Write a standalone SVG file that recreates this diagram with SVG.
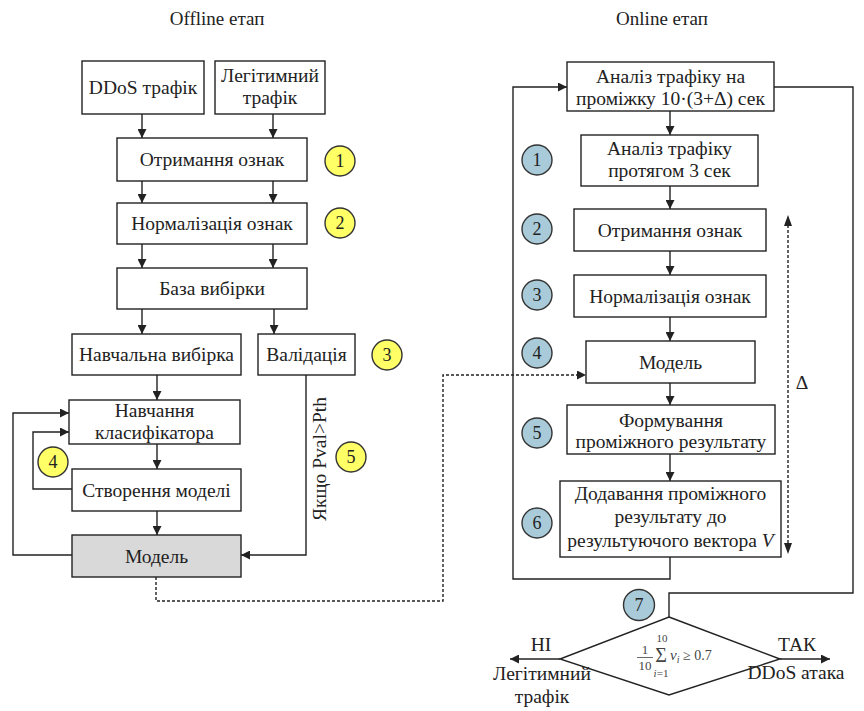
<svg xmlns="http://www.w3.org/2000/svg" width="864" height="711" viewBox="0 0 864 711">
<defs>
<style>
.box{fill:#fff;stroke:#222;stroke-width:1.4}
.gray{fill:#d9d9d9;stroke:#222;stroke-width:1.4}
.t{font-family:"Liberation Serif","Times New Roman",serif;font-size:19.5px;fill:#222;text-anchor:middle}
.title{font-family:"Liberation Serif","Times New Roman",serif;font-size:19px;fill:#222;text-anchor:middle}
.ln{fill:none;stroke:#222;stroke-width:1.4}
.dash{fill:none;stroke:#222;stroke-width:1.4;stroke-dasharray:3 2}
.yc{fill:#ffff66;stroke:#333;stroke-width:1.4}
.bc{fill:#a9cbd9;stroke:#333;stroke-width:1.4}
.num{font-family:"Liberation Serif","Times New Roman",serif;font-size:18px;fill:#222;text-anchor:middle}
.f{font-family:"Liberation Serif","Times New Roman",serif;fill:#444}
</style>
<marker id="ar" viewBox="0 0 10 10" refX="10" refY="5" markerWidth="9" markerHeight="9" markerUnits="userSpaceOnUse" orient="auto">
<path d="M0,0 L10,5 L0,10 z" fill="#222"/>
</marker>
</defs>

<text class="title" x="217" y="25">Offline етап</text>
<text class="title" x="662" y="25">Online етап</text>

<g id="connectors">
<path class="ln" d="M142,114 V138" marker-end="url(#ar)"/>
<path class="ln" d="M273,114 V138" marker-end="url(#ar)"/>
<path class="ln" d="M142,181 V203" marker-end="url(#ar)"/>
<path class="ln" d="M273,181 V203" marker-end="url(#ar)"/>
<path class="ln" d="M142,244 V268" marker-end="url(#ar)"/>
<path class="ln" d="M273,244 V268" marker-end="url(#ar)"/>
<path class="ln" d="M142,309 V334" marker-end="url(#ar)"/>
<path class="ln" d="M274,309 V334" marker-end="url(#ar)"/>
<path class="ln" d="M157,375 V400" marker-end="url(#ar)"/>
<path class="ln" d="M157,444 V469" marker-end="url(#ar)"/>
<path class="ln" d="M157,511 V535" marker-end="url(#ar)"/>
<path class="ln" d="M72,555 H13 V413 H69" marker-end="url(#ar)"/>
<path class="ln" d="M72,489 H33 V432 H69" marker-end="url(#ar)"/>
<path class="ln" d="M306,375 V555 H241" marker-end="url(#ar)"/>
<path class="dash" d="M156,577 V601 H443 V375 H586" marker-end="url(#ar)"/>

<path class="ln" d="M670,111 V135" marker-end="url(#ar)"/>
<path class="ln" d="M670,186 V209" marker-end="url(#ar)"/>
<path class="ln" d="M670,251 V275" marker-end="url(#ar)"/>
<path class="ln" d="M670,317 V341" marker-end="url(#ar)"/>
<path class="ln" d="M670,383 V405" marker-end="url(#ar)"/>
<path class="ln" d="M670,454 V481" marker-end="url(#ar)"/>
<path class="ln" d="M670,557 V579 H513 V87 H567" marker-end="url(#ar)"/>
<path class="ln" d="M774,87 H853 V593 H669 V617"/>
<path class="dash" d="M788,225 V545"/>
<path d="M788,215 L784,226 L792,226 z" fill="#222"/>
<path d="M788,554 L784,543 L792,543 z" fill="#222"/>
<path class="ln" d="M560,659 H510" marker-end="url(#ar)"/>
<path class="ln" d="M780,659 H830" marker-end="url(#ar)"/>
</g>

<g id="n-ddos"><rect class="box" x="82" y="61" width="122" height="53"/><text class="t" x="143" y="94">DDoS трафік</text></g>
<g id="n-legit"><rect class="box" x="215" y="61" width="110" height="53"/><text class="t" x="270" y="82">Легітимний</text><text class="t" x="270" y="104">трафік</text></g>
<g id="n-feat"><rect class="box" x="117" y="138" width="190" height="43"/><text class="t" x="212" y="166">Отримання ознак</text></g>
<g id="n-norm"><rect class="box" x="117" y="203" width="190" height="41"/><text class="t" x="212" y="230">Нормалізація ознак</text></g>
<g id="n-base"><rect class="box" x="117" y="268" width="190" height="41"/><text class="t" x="212" y="295">База вибірки</text></g>
<g id="n-train"><rect class="box" x="72" y="334" width="169" height="41"/><text class="t" x="156.5" y="361">Навчальна вибірка</text></g>
<g id="n-valid"><rect class="box" x="258" y="334" width="97" height="41"/><text class="t" x="306.5" y="361">Валідація</text></g>
<g id="n-learn"><rect class="box" x="69" y="400" width="171" height="44"/><text class="t" x="154.5" y="417">Навчання</text><text class="t" x="154.5" y="439">класифікатора</text></g>
<g id="n-create"><rect class="box" x="72" y="469" width="169" height="42"/><text class="t" x="156.5" y="497">Створення моделі</text></g>
<g id="n-model"><rect class="gray" x="72" y="535" width="169" height="42"/><text class="t" x="156.5" y="563">Модель</text></g>
<g id="l-cond"><text class="t" transform="translate(326,459) rotate(-90)">Якщо Pval&gt;Pth</text></g>

<g id="c-y1"><circle class="yc" cx="340" cy="161" r="15"/><text class="num" x="340" y="167">1</text></g>
<g id="c-y2"><circle class="yc" cx="340" cy="223" r="15"/><text class="num" x="340" y="229">2</text></g>
<g id="c-y3"><circle class="yc" cx="387" cy="355" r="15"/><text class="num" x="387" y="361">3</text></g>
<g id="c-y4"><circle class="yc" cx="53" cy="462" r="15"/><text class="num" x="53" y="468">4</text></g>
<g id="c-y5"><circle class="yc" cx="351" cy="457" r="15"/><text class="num" x="351" y="463">5</text></g>

<g id="n-an10"><rect class="box" x="567" y="62" width="207" height="49"/><text class="t" x="670.5" y="83">Аналіз трафіку на</text><text class="t" x="670.5" y="105">проміжку 10·(3+Δ) сек</text></g>
<g id="n-an3"><rect class="box" x="581" y="135" width="177" height="51"/><text class="t" x="669.5" y="155">Аналіз трафіку</text><text class="t" x="669.5" y="177">протягом 3 сек</text></g>
<g id="n-feat2"><rect class="box" x="574" y="209" width="192" height="42"/><text class="t" x="670" y="237">Отримання ознак</text></g>
<g id="n-norm2"><rect class="box" x="574" y="275" width="192" height="42"/><text class="t" x="670" y="303">Нормалізація ознак</text></g>
<g id="n-model2"><rect class="box" x="586" y="341" width="169" height="42"/><text class="t" x="670.5" y="369">Модель</text></g>
<g id="n-form"><rect class="box" x="567" y="405" width="208" height="49"/><text class="t" x="671" y="427">Формування</text><text class="t" x="671" y="448">проміжного результату</text></g>
<g id="n-add"><rect class="box" x="560" y="481" width="221" height="76"/><text class="t" x="670.5" y="500">Додавання проміжного</text><text class="t" x="670.5" y="523">результату до</text><text class="t" x="670.5" y="547">результуючого вектора <tspan font-style="italic">V</tspan></text></g>
<g id="l-delta"><text class="t" x="802" y="389">Δ</text></g>

<g id="c-b1"><circle class="bc" cx="537" cy="160" r="15"/><text class="num" x="537" y="166">1</text></g>
<g id="c-b2"><circle class="bc" cx="537" cy="229" r="15"/><text class="num" x="537" y="235">2</text></g>
<g id="c-b3"><circle class="bc" cx="537" cy="295" r="15"/><text class="num" x="537" y="301">3</text></g>
<g id="c-b4"><circle class="bc" cx="537" cy="353" r="15"/><text class="num" x="537" y="359">4</text></g>
<g id="c-b5"><circle class="bc" cx="537" cy="433" r="15"/><text class="num" x="537" y="439">5</text></g>
<g id="c-b6"><circle class="bc" cx="537" cy="523" r="15"/><text class="num" x="537" y="529">6</text></g>
<g id="c-b7"><circle class="bc" cx="639" cy="605" r="15.5"/><text class="num" x="639" y="611">7</text></g>

<g id="n-decision">
<path class="box" d="M669,617 L780,659 L669,695 L560,659 z"/>
<text class="f" x="645" y="654" text-anchor="middle" style="font-size:13px">1</text>
<line x1="637" y1="657.5" x2="653" y2="657.5" stroke="#444" stroke-width="0.8"/>
<text class="f" x="645" y="670" text-anchor="middle" style="font-size:13px">10</text>
<text class="f" x="662" y="642" text-anchor="middle" style="font-size:11px">10</text>
<text class="f" x="661" y="662" text-anchor="middle" style="font-size:20px">Σ</text>
<text class="f" x="661" y="677" text-anchor="middle" style="font-size:11px"><tspan style="font-style:italic">i</tspan>=1</text>
<text class="f" x="670" y="660" style="font-size:15px"><tspan style="font-style:italic">v</tspan><tspan style="font-size:10px;font-style:italic" dy="3">i</tspan><tspan style="font-size:14px" dy="-3"> ≥ 0.7</tspan></text>
</g>
<g id="l-no"><text class="t" x="541" y="651">НІ</text></g>
<g id="l-yes"><text class="t" x="797" y="651">ТАК</text></g>
<g id="l-legit"><text class="t" x="542" y="680">Легітимний</text><text class="t" x="542" y="703">трафік</text></g>
<g id="l-attack"><text class="t" x="796" y="679">DDoS атака</text></g>
</svg>
